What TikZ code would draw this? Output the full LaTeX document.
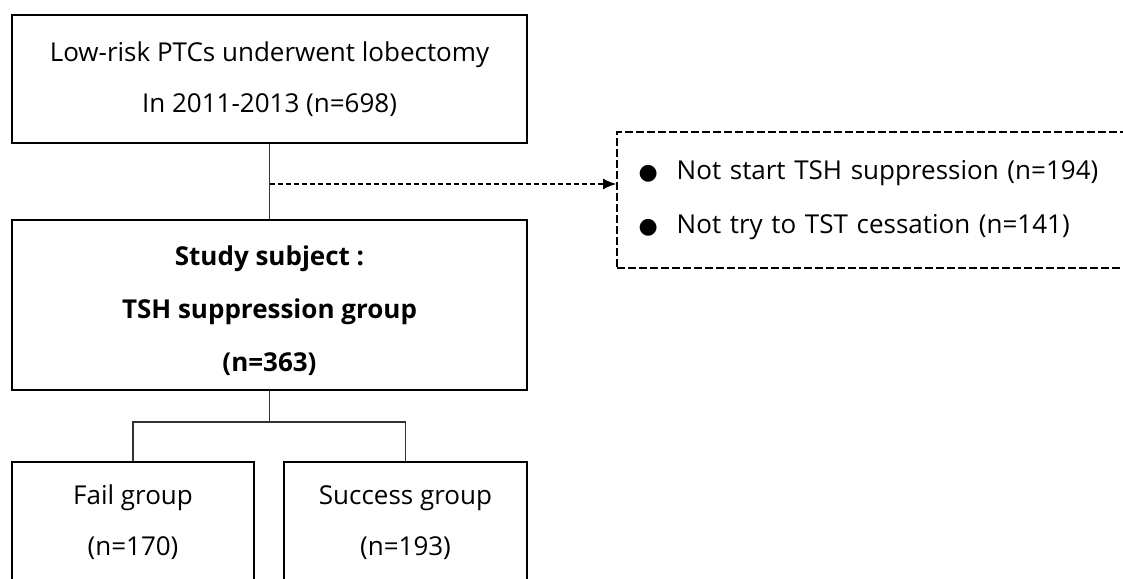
\documentclass[tikz,border=0pt]{standalone}
\usepackage{fontspec}
\setmainfont{Open Sans}
\newfontfamily\symfont{DejaVu Sans}
\usetikzlibrary{arrows.meta}
\newcommand\blt{{\symfont\fontsize{22}{22}\selectfont ●}\hspace{19pt}}

\begin{document}
\begin{tikzpicture}[x=1pt,y=-1pt,
    box/.style={draw,line width=2.4pt,inner sep=0pt,align=center,font=\fontsize{26}{51}\selectfont},
    link/.style={draw=black!80,line width=1.3pt}]
  \useasboundingbox (0,0) rectangle (1123,578);
  \clip (0,0) rectangle (1123,578);
  % boxes
  \node[box,minimum width=515pt,minimum height=128pt] (cohort) at (269.5,79)
    {Low-risk PTCs underwent lobectomy\\In 2011-2013 (n=698)};
  \node[box,minimum width=515pt,minimum height=170pt,font=\fontsize{26}{53}\selectfont\bfseries] (study) at (269.5,305)
    {\rule{0pt}{32pt}Study subject :\\TSH suppression group\\(n=363)};
  \node[box,minimum width=242pt,minimum height=121pt] (fail) at (133,522.5)
    {Fail group\\(n=170)};
  \node[box,minimum width=243pt,minimum height=121pt] (success) at (405.5,522.5)
    {Success group\\(n=193)};
  \node[draw,dash pattern=on 8pt off 3pt,line width=1.8pt,minimum width=523pt,minimum height=136pt,
    text width=480pt,inner xsep=21.5pt,inner ysep=0pt,align=left,font=\fontsize{26}{54}\selectfont] (excl) at (878.5,200)
    {\blt Not start TSH suppression (n=194)\\\blt Not try to TST cessation (n=141)};
  % connectors
  \draw[link] (cohort) -- (study);
  \coordinate (split) at (269.5,184);
  \draw[link,black,dash pattern=on 5pt off 3pt,-{Latex[length=13pt,width=11pt]}] (split) -- (split -| excl.west);
  \coordinate (fork) at (269.5,422);
  \draw[link] (study) -- (fork);
  \draw[link] (fail.north) |- (fork) -| (success.north);
\end{tikzpicture}
\end{document}
